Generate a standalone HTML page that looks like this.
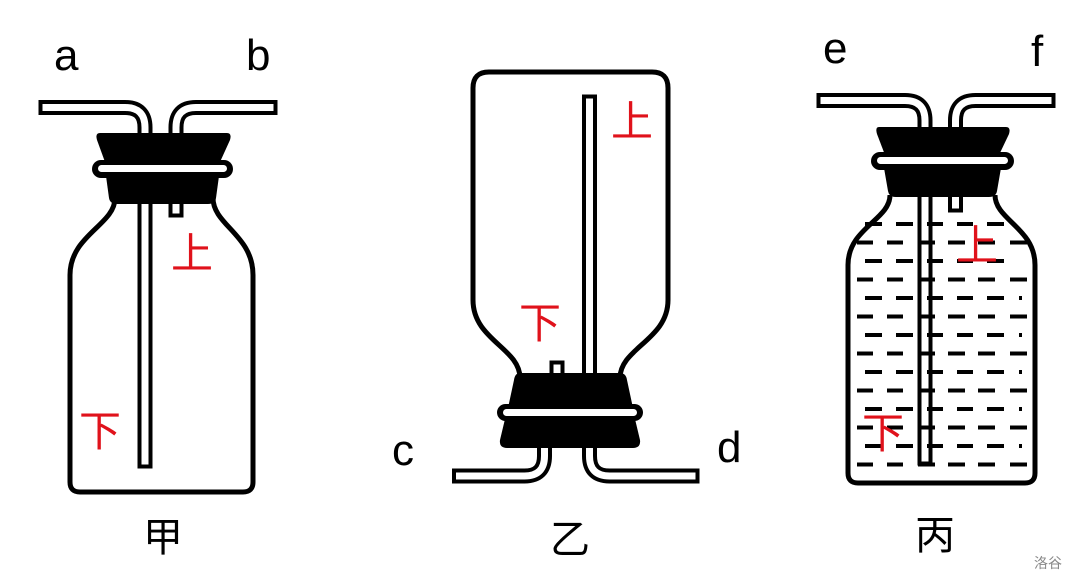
<!DOCTYPE html>
<html><head><meta charset="utf-8"><style>
html,body{margin:0;padding:0;background:#fff;}
svg{display:block;}
text{font-family:"Liberation Sans","Noto Sans CJK SC",sans-serif;}
</style></head><body>
<svg width="1080" height="585" viewBox="0 0 1080 585" xmlns="http://www.w3.org/2000/svg">
<rect width="1080" height="585" fill="#fff"/>
<!-- letters -->
<g font-size="44" fill="#000">
<text x="54" y="70">a</text>
<text x="246" y="70">b</text>
<text x="392" y="465">c</text>
<text x="717" y="462">d</text>
<text x="823" y="63">e</text>
<text x="1031" y="66">f</text>
</g>
<g font-size="40" fill="#000" text-anchor="middle">
<text x="163" y="551">甲</text>
<text x="570" y="553">乙</text>
<text x="935" y="549">丙</text>
</g>
<text x="1048" y="568" font-size="14" fill="#888" text-anchor="middle">洛谷</text>

<!-- tubes outer -->
<g fill="none" stroke="#000" stroke-width="15" stroke-linecap="square" stroke-linejoin="round">
<path id="t1" d="M46,107.5 L125,107.5 Q145,107.5 145,127.5 L145,461"/>
<path id="t2" d="M176,210 L176,127.5 Q176,107.5 196,107.5 L270,107.5"/>
<path id="t3" d="M589.5,102 L589.5,456 Q589.5,476 609.5,476 L692,476"/>
<path id="t4" d="M544.5,440 L544.5,456 Q544.5,476 524.5,476 L459.5,476"/>
<path id="t5" d="M557,368 L557,380"/>
<path id="t6" d="M824,100.5 L905,100.5 Q925,100.5 925,120.5 L925,458"/>
<path id="t7" d="M955.5,205 L955.5,120.5 Q955.5,100.5 975.5,100.5 L1048,100.5"/>
</g>
<g fill="none" stroke="#fff" stroke-width="7" stroke-linecap="square" stroke-linejoin="round">
<use href="#t1"/><use href="#t2"/><use href="#t3"/><use href="#t4"/><use href="#t5"/><use href="#t6"/><use href="#t7"/>
</g>

<!-- bottle bodies -->
<g fill="none" stroke="#000" stroke-width="5">
<path d="M115,198 C115,225 70,235 70,275 L70,482 Q70,492 80,492 L243,492 Q253,492 253,482 L253,275 C253,235 213,225 213,198"/>
<path d="M520,378 C520,348 473,340 473,300 L473,88 Q473,72 489,72 L652,72 Q668,72 668,88 L668,300 C668,340 620,348 620,378"/>
<path d="M890,195 C890,220 848,228 848,265 L848,473 Q848,483 858,483 L1025,483 Q1035,483 1035,473 L1035,265 C1035,228 995,220 995,195"/>
</g>

<!-- stoppers 甲 -->
<g fill="#000">
<path d="M100,133 L227,133 Q232,133 230,140 L220,162 L105,162 L97,140 Q95,133 100,133Z"/>
<rect x="92" y="160" width="141" height="18" rx="9"/>
<path d="M106,176 L219,176 L216,198 Q215,204 208,204 L117,204 Q110,204 109,198Z"/>
</g>
<rect x="98" y="165" width="129" height="7" rx="3.5" fill="#fff"/>

<!-- stopper 丙 -->
<g fill="#000">
<path d="M879,127 L1006,127 Q1011,127 1009,134 L999,155 L885,155 L877,134 Q875,127 879,127Z"/>
<rect x="871" y="152" width="143" height="18" rx="9"/>
<path d="M884,168 L1001,168 L997,191 Q996,197 989,197 L896,197 Q889,197 888,191Z"/>
</g>
<rect x="877" y="157" width="131" height="7" rx="3.5" fill="#fff"/>

<!-- stopper 乙 -->
<g fill="#000">
<path d="M520,373 L620,373 Q626,373 627,380 L633,408 L508,408 L514,380 Q515,373 520,373Z"/>
<rect x="497" y="404" width="146" height="17" rx="8.5"/>
<path d="M505,419 L635,419 L640,440 Q641,448 633,448 L507,448 Q499,448 500,440Z"/>
</g>
<rect x="503" y="409" width="134" height="7" rx="3.5" fill="#fff"/>

<!-- liquid dashes 丙 -->
<g stroke="#000" stroke-width="4">
<path d="M865,224h17M896,224h17M927,224h16M957,224h16M987,224h17
M857,242.5h16M887,242.5h16M918,242.5h17M948,242.5h17M978,242.5h17M1010,242.5h17
M865,261h17M896,261h17M927,261h16M957,261h16M987,261h17
M857,279.5h16M887,279.5h16M918,279.5h17M948,279.5h17M978,279.5h17M1010,279.5h17
M865,298h17M896,298h17M927,298h16M957,298h16M987,298h17M1019,298h3
M857,316.5h16M887,316.5h16M918,316.5h17M948,316.5h17M978,316.5h17M1010,316.5h17
M865,335h17M896,335h17M927,335h16M957,335h16M987,335h17M1019,335h3
M857,353.5h16M887,353.5h16M918,353.5h17M948,353.5h17M978,353.5h17M1010,353.5h17
M865,372h17M896,372h17M927,372h16M957,372h16M987,372h17M1019,372h3
M857,390.5h16M887,390.5h16M918,390.5h17M948,390.5h17M978,390.5h17M1010,390.5h17
M865,409h17M896,409h17M927,409h16M957,409h16M987,409h17M1019,409h3
M857,427.5h16M887,427.5h16M918,427.5h17M948,427.5h17M978,427.5h17M1010,427.5h17
M865,446h17M896,446h17M927,446h16M957,446h16M987,446h17M1019,446h3
M857,464.5h16M887,464.5h16M918,464.5h17M948,464.5h17M978,464.5h17M1010,464.5h17"/>
</g>

<!-- red labels -->
<g font-size="42" fill="#e0121b">
<text x="171" y="268">上</text>
<text x="79" y="446">下</text>
<text x="611" y="136">上</text>
<text x="519" y="338">下</text>
<text x="956" y="260">上</text>
<text x="862" y="448">下</text>
</g>
</svg>
</body></html>
